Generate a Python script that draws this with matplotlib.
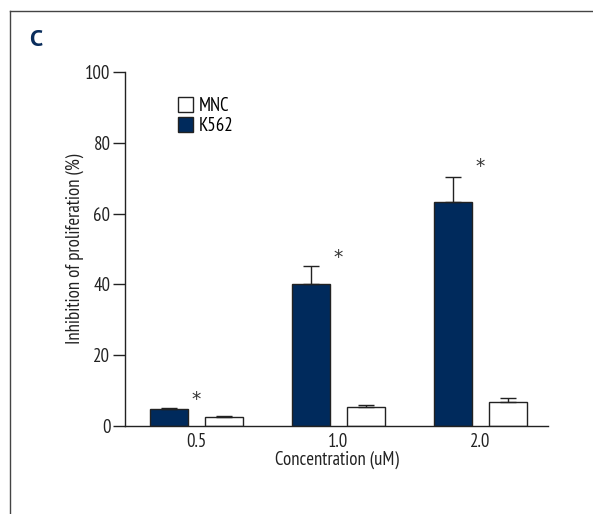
import numpy as np
import matplotlib
matplotlib.use("Agg")
import matplotlib.pyplot as plt
from matplotlib.lines import Line2D
from matplotlib.patches import Patch

plt.rcParams['font.family'] = ['PT Sans Narrow', 'DejaVu Sans']

concentrations = ['0.5', '1.0', '2.0']
k562 = [4.8, 40.1, 63.2]
k562_err = [0.3, 5.0, 7.1]
mnc = [2.5, 5.5, 6.7]
mnc_err = [0.3, 0.5, 1.2]
star_pos = [7.6, 47.7, 73.2]

navy = '#002a5c'
edge = '#222222'

fig = plt.figure(figsize=(5.93, 5.14), dpi=100)
ax = fig.add_axes([125/593, 1-426/514, (548-125)/593, (426-72)/514])

x = np.arange(len(concentrations))
w = 0.268
off = 0.194
ax.bar(x - off, k562, w, color=navy, edgecolor=edge, linewidth=1.0,
       yerr=[np.zeros(3), k562_err], error_kw=dict(ecolor=edge, elinewidth=1.0, capsize=6, capthick=1.0))
ax.bar(x + off, mnc, w, color='white', edgecolor=edge, linewidth=1.0,
       yerr=[np.zeros(3), mnc_err], error_kw=dict(ecolor=edge, elinewidth=1.0, capsize=6, capthick=1.0))

# significance marks
for xi, s in zip(x, star_pos):
    ax.text(xi, s, '*', ha='center', va='center', fontsize=13.5, color='#333333',
            family='DejaVu Sans')

ax.set_xlim(-0.503, 2.475)
ax.set_ylim(0, 100)
ax.set_yticks([0, 20, 40, 60, 80, 100])
ax.set_xticks(x)
ax.set_xticklabels(concentrations)
ax.tick_params(axis='y', direction='out', length=8.5, width=1.0, labelsize=13.5, pad=2, colors='#222222')
ax.tick_params(axis='x', length=0, labelsize=13.5, pad=5, colors='#222222')
for s in ['top', 'right']:
    ax.spines[s].set_visible(False)
for s in ['left', 'bottom']:
    ax.spines[s].set_color(edge)
    ax.spines[s].set_linewidth(1.0)

ax.set_ylabel('Inhibition of proliferation (%)', fontsize=13.5, color='#222222', labelpad=1)
ax.set_xlabel('Concentration (uM)', fontsize=13.5, color='#222222', labelpad=0)

handles = [Patch(facecolor='white', edgecolor=edge, linewidth=1.0),
           Patch(facecolor=navy, edgecolor=edge, linewidth=1.0)]
ax.legend(handles, ['MNC', 'K562'], loc='upper left', bbox_to_anchor=(53/423, 1-25/354),
          frameon=False, fontsize=13.5, handlelength=0.8, handleheight=0.8,
          handletextpad=0.3, labelspacing=0.1, borderpad=0, borderaxespad=0)

fig.text(29/593, 1-40/514, 'C', fontsize=17, fontweight='bold', color='#0a2d5c',
         family=['PT Sans', 'DejaVu Sans'], va='center', ha='left')

# panel frame (top and left edges only)
fig.add_artist(Line2D([10/593, 1], [1-11/514, 1-11/514], color='#444444', linewidth=1.0))
fig.add_artist(Line2D([10/593, 10/593], [0, 1-11/514], color='#444444', linewidth=1.0))

fig.savefig('out.png', dpi=100)
